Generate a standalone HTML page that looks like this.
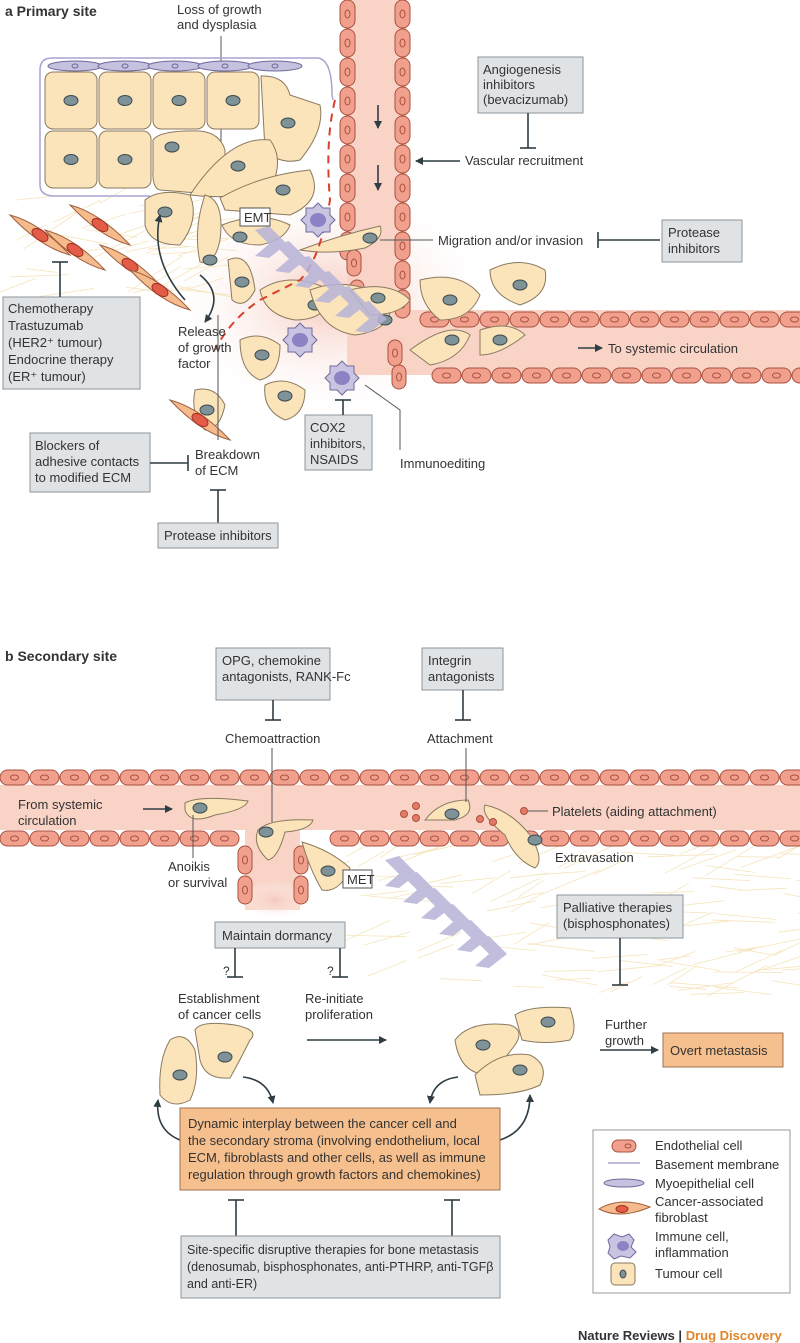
<!DOCTYPE html>
<html><head><meta charset="utf-8"><style>
body{margin:0;background:#fff}
svg{display:block;font-family:"Liberation Sans",sans-serif;font-size:13px;fill:#333}
.bx{fill:#dfe3e5;stroke:#8c969b;stroke-width:1}
.ob{fill:#f6c08e;stroke:#a07050;stroke-width:1}
.ln{stroke:#2f3d44;stroke-width:1.6;fill:none}
.tl{stroke:#555;stroke-width:1;fill:none}
.tc{fill:#fbe3ba;stroke:#8a7a60;stroke-width:1}
.nu{fill:#7f9297;stroke:#3d4d52;stroke-width:1}
.en{fill:#f2a08e;stroke:#a8503f;stroke-width:1}
.ves{fill:#f8d3c6}
text{fill:#333}
</style></head><body>
<svg id="s" width="800" height="1343" viewBox="0 0 800 1343">
<defs>
<marker id="ar" markerWidth="8" markerHeight="8" refX="7" refY="4" orient="auto" markerUnits="userSpaceOnUse"><path d="M0,0 L8,4 L0,8 Z" fill="#2f3d44"/></marker>
<radialGradient id="glow"><stop offset="0" stop-color="#f6c8bc"/><stop offset="1" stop-color="#fff" stop-opacity="0"/></radialGradient>
</defs>
<text x="5" y="16" style="font-weight:bold;font-size:14px">a  Primary site</text>
<text x="177" y="14">Loss of growth</text><text x="177" y="29">and dysplasia</text>
<line class="tl" x1="221" y1="36" x2="221" y2="178"/>
<ellipse cx="330" cy="300" rx="170" ry="120" fill="url(#glow)"/>
<rect class="ves" x="347" y="0" width="60" height="310"/>
<rect class="ves" x="347" y="310" width="453" height="65"/>
<g stroke="#f3d9a0" stroke-width="0.8" opacity="0.7" id="fib"></g>
<path d="M40,70 Q40,58 52,58 L318,58 Q332,60 332,95 L333,100" fill="none" stroke="#a8a3cf" stroke-width="1.5"/>
<path d="M40,70 L40,185 Q40,196 55,196 L150,196" fill="none" stroke="#a8a3cf" stroke-width="1.5"/>
<g id="myo"></g>
<g id="cellsA"></g>
<path d="M335,100 Q325,140 330,200 Q320,260 300,280 L260,300 Q230,320 215,350" fill="none" stroke="#d9402a" stroke-width="2" stroke-dasharray="8,6"/>
<g fill="#b7b3d8" opacity="0.85" id="chevA"></g>
<rect x="240" y="208" width="30" height="18" fill="#fff" stroke="#555"/>
<text x="244" y="222">EMT</text>
<g id="imm"></g>
<line class="ln" x1="378" y1="105" x2="378" y2="128" marker-end="url(#ar)"/>
<line class="ln" x1="378" y1="165" x2="378" y2="190" marker-end="url(#ar)"/>
<rect class="bx" x="478" y="57" width="105" height="56"/>
<text x="483" y="74">Angiogenesis</text><text x="483" y="89">inhibitors</text><text x="483" y="104">(bevacizumab)</text>
<line class="ln" x1="528" y1="113" x2="528" y2="148"/><line class="ln" x1="520" y1="148" x2="536" y2="148"/>
<text x="465" y="165">Vascular recruitment</text>
<line class="ln" x1="460" y1="161" x2="416" y2="161" marker-end="url(#ar)"/>
<line class="tl" x1="380" y1="240" x2="433" y2="240"/>
<text x="438" y="245">Migration and/or invasion</text>
<line class="ln" x1="660" y1="240" x2="598" y2="240"/><line class="ln" x1="598" y1="232" x2="598" y2="248"/>
<rect class="bx" x="662" y="220" width="80" height="42"/>
<text x="668" y="237">Protease</text><text x="668" y="253">inhibitors</text>
<line class="ln" x1="578" y1="348" x2="602" y2="348" marker-end="url(#ar)"/>
<text x="608" y="353">To systemic circulation</text>
<rect class="bx" x="3" y="297" width="137" height="92"/>
<text x="8" y="313">Chemotherapy</text><text x="8" y="330">Trastuzumab</text><text x="8" y="347">(HER2⁺ tumour)</text><text x="8" y="364">Endocrine therapy</text><text x="8" y="381">(ER⁺ tumour)</text>
<line class="ln" x1="60" y1="297" x2="60" y2="262"/><line class="ln" x1="52" y1="262" x2="68" y2="262"/>
<path class="ln" d="M185,300 Q150,260 160,215" marker-end="url(#ar)"/>
<path class="ln" d="M200,275 Q225,295 205,322" marker-end="url(#ar)"/>
<text x="178" y="336">Release</text><text x="178" y="352">of growth</text><text x="178" y="368">factor</text>
<line class="tl" x1="218" y1="440" x2="218" y2="315"/>
<rect class="bx" x="30" y="433" width="120" height="59"/>
<text x="35" y="450">Blockers of</text><text x="35" y="466">adhesive contacts</text><text x="35" y="482">to modified ECM</text>
<line class="ln" x1="150" y1="463" x2="188" y2="463"/><line class="ln" x1="188" y1="455" x2="188" y2="471"/>
<text x="195" y="459">Breakdown</text><text x="195" y="475">of ECM</text>
<line class="ln" x1="218" y1="523" x2="218" y2="490"/><line class="ln" x1="210" y1="490" x2="226" y2="490"/>
<rect class="bx" x="158" y="523" width="120" height="25"/>
<text x="164" y="540">Protease inhibitors</text>
<rect class="bx" x="305" y="415" width="67" height="55"/>
<text x="310" y="432">COX2</text><text x="310" y="448">inhibitors,</text><text x="310" y="464">NSAIDS</text>
<line class="ln" x1="343" y1="415" x2="343" y2="400"/><line class="ln" x1="335" y1="400" x2="351" y2="400"/>
<polyline class="tl" points="400,450 400,410 365,385"/>
<text x="400" y="468">Immunoediting</text>
<text x="5" y="661" style="font-weight:bold;font-size:14px">b  Secondary site</text>
<rect class="ves" x="0" y="785" width="800" height="45"/>
<rect class="ves" x="245" y="830" width="55" height="80"/>
<rect x="235" y="880" width="80" height="40" fill="url(#glow)"/>
<g stroke="#f3d9a0" stroke-width="0.8" opacity="0.7" id="fibB"></g>
<g id="vesB"></g>
<g fill="#b7b3d8" opacity="0.85" id="chevB"></g>
<g id="cellsB"></g>
<rect class="bx" x="216" y="648" width="114" height="52"/>
<text x="222" y="665">OPG, chemokine</text><text x="222" y="681">antagonists, RANK-Fc</text>
<line class="ln" x1="273" y1="700" x2="273" y2="720"/><line class="ln" x1="265" y1="720" x2="281" y2="720"/>
<text x="225" y="743">Chemoattraction</text>
<line class="tl" x1="272" y1="748" x2="272" y2="822"/>
<rect class="bx" x="422" y="648" width="81" height="42"/>
<text x="428" y="665">Integrin</text><text x="428" y="681">antagonists</text>
<line class="ln" x1="463" y1="690" x2="463" y2="720"/><line class="ln" x1="455" y1="720" x2="471" y2="720"/>
<text x="427" y="743">Attachment</text>
<line class="tl" x1="466" y1="748" x2="466" y2="802"/>
<text x="18" y="809">From systemic</text><text x="18" y="825">circulation</text>
<line class="ln" x1="143" y1="809" x2="172" y2="809" marker-end="url(#ar)"/>
<text x="168" y="871">Anoikis</text><text x="168" y="887">or survival</text>
<line class="tl" x1="193" y1="858" x2="193" y2="815"/>
<rect x="343" y="870" width="29" height="18" fill="#fff" stroke="#555"/>
<text x="347" y="884">MET</text>
<g fill="#e47a66" stroke="#a8503f"><circle cx="404" cy="814" r="3.5"/><circle cx="416" cy="806" r="3.5"/><circle cx="416" cy="818" r="3.5"/><circle cx="480" cy="819" r="3.5"/><circle cx="493" cy="822" r="3.5"/><circle cx="524" cy="811" r="3.5"/></g>
<line class="tl" x1="528" y1="811" x2="548" y2="811"/>
<text x="552" y="816">Platelets (aiding attachment)</text>
<text x="555" y="862">Extravasation</text>
<rect class="bx" x="215" y="922" width="130" height="26"/>
<text x="222" y="940">Maintain dormancy</text>
<text x="223" y="975" style="font-size:12px">?</text>
<line class="ln" x1="235" y1="948" x2="235" y2="977"/><line class="ln" x1="227" y1="977" x2="243" y2="977"/>
<text x="327" y="975" style="font-size:12px">?</text>
<line class="ln" x1="340" y1="948" x2="340" y2="977"/><line class="ln" x1="332" y1="977" x2="348" y2="977"/>
<text x="178" y="1003">Establishment</text><text x="178" y="1019">of cancer cells</text>
<text x="305" y="1003">Re-initiate</text><text x="305" y="1019">proliferation</text>
<line class="ln" x1="307" y1="1040" x2="386" y2="1040" marker-end="url(#ar)"/>
<rect class="bx" x="557" y="895" width="126" height="43"/>
<text x="563" y="912">Palliative therapies</text><text x="563" y="928">(bisphosphonates)</text>
<line class="ln" x1="620" y1="938" x2="620" y2="985"/><line class="ln" x1="612" y1="985" x2="628" y2="985"/>
<text x="605" y="1029">Further</text><text x="605" y="1045">growth</text>
<line class="ln" x1="600" y1="1050" x2="658" y2="1050" marker-end="url(#ar)"/>
<rect class="ob" x="663" y="1033" width="120" height="34"/>
<text x="670" y="1055">Overt metastasis</text>
<path class="ln" d="M243,1077 Q268,1080 273,1103" marker-end="url(#ar)"/>
<path class="ln" d="M180,1140 Q155,1130 158,1100" marker-end="url(#ar)"/>
<path class="ln" d="M458,1077 Q433,1080 430,1103" marker-end="url(#ar)"/>
<path class="ln" d="M500,1140 Q530,1130 530,1095" marker-end="url(#ar)"/>
<rect class="ob" x="180" y="1108" width="320" height="82"/>
<text x="188" y="1128">Dynamic interplay between the cancer cell and</text>
<text x="188" y="1145">the secondary stroma (involving endothelium, local</text>
<text x="188" y="1162">ECM, fibroblasts and other cells, as well as immune</text>
<text x="188" y="1179">regulation through growth factors and chemokines)</text>
<line class="ln" x1="236" y1="1236" x2="236" y2="1200"/><line class="ln" x1="228" y1="1200" x2="244" y2="1200"/>
<line class="ln" x1="452" y1="1236" x2="452" y2="1200"/><line class="ln" x1="444" y1="1200" x2="460" y2="1200"/>
<rect class="bx" x="181" y="1236" width="319" height="62"/>
<g style="font-size:12.5px">
<text x="187" y="1254">Site-specific disruptive therapies for bone metastasis</text>
<text x="187" y="1271">(denosumab, bisphosphonates, anti-PTHRP, anti-TGFβ</text>
<text x="187" y="1288">and anti-ER)</text></g>
<rect x="593" y="1130" width="197" height="163" fill="#fff" stroke="#999"/>
<rect class="en" x="612" y="1140" width="24" height="12" rx="6"/><ellipse cx="628" cy="1146" rx="3" ry="2" fill="none" stroke="#a8503f"/>
<text x="655" y="1150">Endothelial cell</text>
<line x1="608" y1="1163" x2="640" y2="1163" stroke="#a8a3cf" stroke-width="1.5"/>
<text x="655" y="1169">Basement membrane</text>
<ellipse cx="624" cy="1183" rx="20" ry="4" fill="#c5c2e0" stroke="#6f6a9a"/>
<text x="655" y="1188">Myoepithelial cell</text>
<path d="M599,1209 Q620,1196 650,1207 Q620,1220 599,1209Z" fill="#f6bb8c" stroke="#a06040"/><ellipse cx="622" cy="1209" rx="6" ry="3.5" fill="#e25c48" stroke="#a03020"/>
<text x="655" y="1206">Cancer-associated</text><text x="655" y="1222">fibroblast</text>
<path d="M608,1240 l6,-6 l8,3 l7,-3 l5,6 l-3,7 l5,5 l-6,6 l-9,-2 l-7,3 l-6,-6 l2,-6z" fill="#c8c4e2" stroke="#6f6a9a"/><ellipse cx="623" cy="1246" rx="6" ry="5" fill="#8c82c4"/>
<text x="655" y="1241">Immune cell,</text><text x="655" y="1257">inflammation</text>
<rect class="tc" x="611" y="1263" width="24" height="22" rx="4"/><ellipse class="nu" cx="623" cy="1274" rx="3" ry="4"/>
<text x="655" y="1278">Tumour cell</text>
<text x="578" y="1340" style="font-weight:bold;font-size:13px">Nature Reviews | <tspan fill="#e0862a" style="fill:#e0862a">Drug Discovery</tspan></text>
</svg>
<script>
var NS="http://www.w3.org/2000/svg",S=document.getElementById("s");
function el(p,t,a){var e=document.createElementNS(NS,t);for(var k in a)e.setAttribute(k,a[k]);p.appendChild(e);return e}
function endo(p,x,y,w,h){el(p,"rect",{x:x,y:y,width:w,height:h,rx:Math.min(w,h)/2,"class":"en"});el(p,"ellipse",{cx:x+w/2,cy:y+h/2,rx:w>h?4:2.5,ry:w>h?2.5:4,fill:"none",stroke:"#a8503f"})}
var v=document.createElementNS(NS,"g");S.insertBefore(v,document.getElementById("fib").nextSibling);
for(var y=0;y<240;y+=29){endo(v,340,y,15,28);}
for(var y=0;y<300;y+=29){endo(v,395,y,15,28);}
for(var x=420;x<800;x+=30){endo(v,x,312,29,15);}
for(var x=432;x<800;x+=30){endo(v,x,368,29,15);}
endo(v,347,250,14,26);endo(v,350,280,14,26);endo(v,388,340,14,26);endo(v,392,365,14,24);
var vb=document.getElementById("vesB");
for(var x=0;x<800;x+=30){endo(vb,x,770,29,15);}
for(var x=0;x<800;x+=30){if(x<240||x>300)endo(vb,x,831,29,15);}
endo(vb,238,846,14,28);endo(vb,238,876,14,28);endo(vb,294,846,14,28);endo(vb,294,876,14,28);
var seed=7;function rnd(){seed=(seed*16807)%2147483647;return seed/2147483647}
function fib(g,x0,y0,x1,y1,n){for(var i=0;i<n;i++){var x=x0+rnd()*(x1-x0),y=y0+rnd()*(y1-y0),a=rnd()*0.8-0.6,l=30+rnd()*40;el(g,"line",{x1:x,y1:y,x2:x+l*Math.cos(a),y2:y+l*Math.sin(a)})}}
fib(document.getElementById("fib"),0,200,200,300,45);
fib(document.getElementById("fibB"),320,850,800,1000,110);
var m=document.getElementById("myo");
[[75,66],[125,66],[175,66],[225,66],[275,66]].forEach(function(p){el(m,"ellipse",{cx:p[0],cy:p[1],rx:27,ry:5,fill:"#c5c2e0",stroke:"#6f6a9a"});el(m,"ellipse",{cx:p[0],cy:p[1],rx:3,ry:2,fill:"none",stroke:"#6f6a9a"})});
var c=document.getElementById("cellsA");
function tc(p,x,y,w,h,r){el(p,"rect",{x:x,y:y,width:w,height:h,rx:r||8,"class":"tc"});el(p,"ellipse",{cx:x+w/2,cy:y+h/2,rx:7,ry:5,"class":"nu"})}
function blob(p,d,nx,ny){el(p,"path",{d:d,"class":"tc"});el(p,"ellipse",{cx:nx,cy:ny,rx:7,ry:5,"class":"nu"})}
[[45,72],[99,72],[153,72],[207,72],[45,131],[99,131]].forEach(function(q){tc(c,q[0],q[1],52,57)});
blob(c,"M153,140 Q160,130 200,131 Q220,133 225,150 L225,180 Q210,195 185,192 L160,190 Q152,188 153,170Z",172,147);
blob(c,"M261,76 Q285,75 290,95 L320,105 Q325,130 300,160 Q280,165 265,150Z",288,123);
blob(c,"M190,195 Q230,135 270,140 Q285,160 270,190 Q230,200 190,195Z",238,166);
blob(c,"M220,198 Q260,175 310,170 Q325,200 290,215 L225,210Z",283,190);
blob(c,"M145,200 Q160,188 190,195 Q200,220 180,245 Q150,245 145,225Z",165,212);
blob(c,"M205,195 Q225,200 220,240 Q215,265 200,262 Q193,230 205,195Z",210,260);
blob(c,"M222,225 Q260,210 290,225 Q285,240 260,245 Q230,245 222,225Z",240,237);
blob(c,"M228,260 Q250,250 255,290 Q245,310 232,300Z",242,282);
blob(c,"M300,250 Q340,235 380,226 Q385,238 365,248 Q330,255 300,250Z",370,238);
blob(c,"M260,290 Q290,270 330,290 Q330,320 295,320 Q265,315 260,290Z",315,305);
blob(c,"M310,290 Q350,275 390,300 Q395,330 355,335 Q320,330 310,290Z",385,320);
blob(c,"M240,340 Q260,330 280,345 Q280,375 260,380 Q240,372 240,340Z",262,355);
blob(c,"M265,385 Q285,375 305,390 Q305,415 285,420 Q262,410 265,385Z",285,396);
blob(c,"M195,390 Q215,385 225,405 Q220,430 205,430 Q190,415 195,390Z",207,410);
blob(c,"M410,350 Q450,320 470,335 Q460,360 430,365Z",452,340);
blob(c,"M480,330 Q510,320 525,335 Q500,355 480,355Z",500,340);
blob(c,"M490,270 Q520,255 545,270 Q550,295 520,305 Q490,295 490,270Z",520,285);
blob(c,"M420,280 Q460,270 480,295 Q470,320 440,320 Q420,305 420,280Z",450,300);
blob(c,"M350,290 Q390,280 410,300 Q400,315 370,315Z",378,298);
[[40,235],[75,250],[100,225],[130,265],[160,290],[200,420]].forEach(function(p){var x=p[0],y=p[1];el(c,"path",{d:"M"+(x-30)+","+(y-20)+" Q"+x+","+(y-12)+" "+(x+30)+","+(y+20)+" Q"+x+","+(y+12)+" "+(x-30)+","+(y-20)+"Z",fill:"#f6bb8c",stroke:"#a06040"});el(c,"ellipse",{cx:x,cy:y,rx:9,ry:5,fill:"#e25c48",stroke:"#a03020",transform:"rotate(34 "+x+" "+y+")"})});
var ca=document.getElementById("chevA");for(var i=0;i<6;i++){var x=255+i*20,y=230+i*15;el(ca,"path",{d:"M"+x+","+y+" l14,-4 l18,18 l-18,14 l-14,-2 l14,-12z"})}
var cb=document.getElementById("chevB");for(var i=0;i<6;i++){var x=385+i*18,y=860+i*16;el(cb,"path",{d:"M"+x+","+y+" l14,-4 l18,18 l-18,14 l-14,-2 l14,-12z"})}
var im=document.getElementById("imm");
[[318,220],[300,340],[342,378]].forEach(function(p){var x=p[0],y=p[1],d="";for(var i=0;i<16;i++){var a=i/16*6.283,r=i%2?13:17;d+=(i?"L":"M")+(x+r*Math.cos(a)).toFixed(1)+","+(y+r*Math.sin(a)).toFixed(1)}el(im,"path",{d:d+"Z",fill:"#c8c4e2",stroke:"#6f6a9a"});el(im,"ellipse",{cx:x,cy:y,rx:8,ry:7,fill:"#8c82c4"})});
var cB=document.getElementById("cellsB");
blob(cB,"M185,803 Q200,795 248,801 Q245,810 215,815 Q190,825 185,810Z",200,808);
blob(cB,"M258,830 Q270,818 313,820 Q310,830 285,832 Q278,858 268,860 Q252,845 258,830Z",266,832);
blob(cB,"M302,842 Q330,850 350,868 Q340,893 322,890 Q310,870 302,842Z",328,871);
blob(cB,"M425,820 Q440,800 468,800 Q475,815 455,820Z",452,814);
blob(cB,"M485,805 Q510,810 530,835 Q545,860 535,868 Q515,860 505,835 Q480,815 485,805Z",535,840);
blob(cB,"M170,1040 Q185,1030 195,1050 Q200,1080 190,1100 Q172,1110 160,1095 Q158,1060 170,1040Z",180,1075);
blob(cB,"M195,1030 Q200,1020 235,1025 Q260,1030 250,1040 Q240,1060 230,1078 Q205,1080 200,1060Z",225,1057);
blob(cB,"M455,1040 Q470,1020 510,1025 Q525,1030 515,1045 Q500,1065 490,1075 Q460,1075 455,1040Z",483,1045);
blob(cB,"M515,1015 Q530,1005 570,1008 Q578,1030 570,1040 Q545,1045 522,1040Z",548,1022);
blob(cB,"M475,1075 Q500,1050 530,1055 Q550,1065 540,1085 Q520,1095 480,1095Z",520,1070);
</script>
</body></html>
